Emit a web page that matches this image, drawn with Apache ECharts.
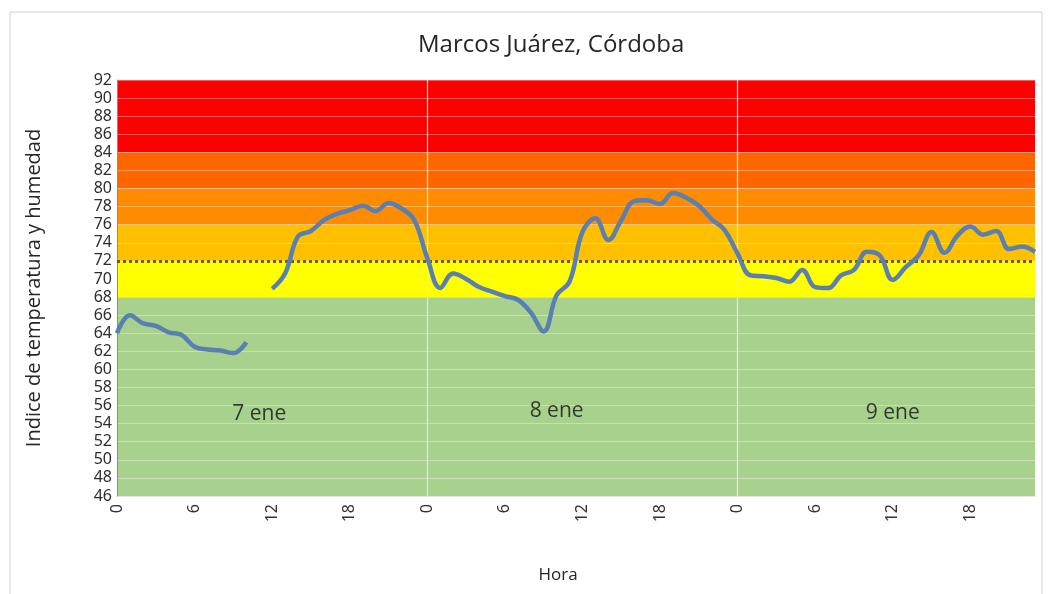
<!DOCTYPE html>
<html>
<head>
<meta charset="utf-8">
<script src="https://cdn.jsdelivr.net/npm/echarts@6/dist/echarts.min.js"></script>
<style>
  html, body { margin: 0; padding: 0; background: #fff; }
  #chart { width: 1048px; height: 594px; }
</style>
</head>
<body>
<div id="chart"></div>
<script>
// hora del día, tres días seguidos (7, 8 y 9 de enero)
const hours = [
  0, 1, 2, 3, 4, 5, 6, 7, 8, 9, 10, 11, 12, 13, 14, 15, 16, 17, 18, 19, 20, 21, 22, 23,
  0, 1, 2, 3, 4, 5, 6, 7, 8, 9, 10, 11, 12, 13, 14, 15, 16, 17, 18, 19, 20, 21, 22, 23,
  0, 1, 2, 3, 4, 5, 6, 7, 8, 9, 10, 11, 12, 13, 14, 15, 16, 17, 18, 19, 20, 21, 22, 23
]
// índice de temperatura y humedad (ITH)
const ith = [
  64.0, 66.0, 65.1, 64.8, 64.1, 63.8, 62.5, 62.2, 62.1, 61.8, 63.0, null,
  68.9, 70.6, 74.7, 75.3, 76.5, 77.2, 77.6, 78.1, 77.5, 78.4, 77.8, 76.5,
  72.3, 69.0, 70.6, 70.0, 69.1, 68.6, 68.1, 67.7, 66.3, 64.2, 68.2, 69.7,
  75.2, 76.7, 74.3, 76.5, 78.6, 78.7, 78.3, 79.5, 79.0, 78.1, 76.6, 75.4,
  72.8, 70.4, 70.3, 70.1, 69.7, 71.0, 69.1, 69.0, 70.4, 71.0, 73.0, 72.6,
  69.9, 71.3, 72.6, 75.2, 72.9, 74.8, 75.8, 74.9, 75.3, 73.3, 73.6, 73.0
]
// franjas de riesgo [desde, hasta, color]
const bands = [
  [46, 68, '#a9d18e'],
  [68, 72, '#ffff00'],
  [72, 76, '#ffc000'],
  [76, 80, '#ff8c00'],
  [80, 84, '#ff6600'],
  [84, 92, '#ff0000']
]
const dayLabels = ['7 ene', '8 ene', '9 ene']
const dayLabelPos = [[10.7, 55.1], [33.9, 55.4], [59.6, 55.2]]
const dayStarts = [24, 48]
const threshold = 72

const myChart = echarts.init(document.getElementById('chart'))
const tickFont = '"Noto Sans", sans-serif'
const textFont = '"Open Sans", sans-serif'

const option = {
  animation: false,
  title: {
    text: 'Marcos Juárez, Córdoba',
    left: 413,
    top: 28,
    textStyle: { fontFamily: textFont, fontWeight: 'normal', fontSize: 24, color: '#262626' }
  },
  graphic: [{
    type: 'rect',
    shape: { x: 10, y: 12, width: 1032, height: 600 },
    style: { fill: 'none', stroke: '#d0d0d0', lineWidth: 1 }
  }],
  grid: { left: 117, right: 13, top: 80, bottom: 98 },
  xAxis: {
    type: 'category',
    data: hours.map((h, i) => i),
    boundaryGap: false,
    name: 'Hora',
    nameLocation: 'middle',
    nameGap: 71,
    nameTextStyle: { fontFamily: textFont, fontSize: 17, color: '#262626', padding: [0, 36, 0, 0] },
    axisLine: { lineStyle: { color: '#d9d9d9' } },
    axisTick: { show: false },
    axisLabel: {
      interval: 5,
      rotate: 90,
      margin: 8,
      fontFamily: tickFont,
      fontSize: 16,
      color: '#333',
      formatter: (v) => hours[v]
    },
    splitLine: { show: false }
  },
  yAxis: {
    type: 'value',
    min: 46,
    max: 92,
    interval: 2,
    z: 3,
    name: 'Indice de temperatura y humedad',
    nameLocation: 'middle',
    nameGap: 73,
    nameTextStyle: { fontFamily: textFont, fontSize: 20, color: '#262626' },
    axisLine: { show: true, lineStyle: { color: '#8c8c8c' } },
    axisTick: { show: false },
    axisLabel: { fontFamily: tickFont, fontSize: 16, color: '#2e2e2e', margin: 5, lineHeight: 9 },
    splitLine: { lineStyle: { color: 'rgba(255,255,255,0.35)', width: 1 } }
  },
  series: [
    {
      name: 'franjas',
      type: 'line',
      data: [],
      z: 1,
      silent: true,
      markArea: {
        silent: true,
        data: bands.map(b => [
          { yAxis: b[0], itemStyle: { color: b[2] } },
          { yAxis: b[1] }
        ])
      }
    },
    {
      name: 'marcas',
      type: 'line',
      data: [],
      z: 4,
      silent: true,
      markLine: {
        silent: true,
        symbol: 'none',
        label: { show: false },
        data: [
          { yAxis: threshold, lineStyle: { color: '#6e5a24', type: [3, 3], width: 3 } },
          ...dayStarts.map(d => ({ xAxis: d, lineStyle: { color: '#e6e6e6', type: 'solid', width: 1.2 } }))
        ]
      }
    },
    {
      name: 'días',
      type: 'scatter',
      symbolSize: 0,
      z: 5,
      silent: true,
      data: dayLabelPos.map((p, i) => ({ value: p, name: dayLabels[i] })),
      label: {
        show: true,
        position: 'inside',
        formatter: (p) => p.name,
        fontFamily: textFont,
        fontSize: 21,
        color: '#111'
      }
    },
    {
      name: 'ITH',
      type: 'line',
      data: ith,
      z: 6,
      smooth: 0.4,
      connectNulls: false,
      showSymbol: false,
      lineStyle: { color: '#5a7fb3', width: 4.5 }
    }
  ]
}
myChart.setOption(option)
</script>
</body>
</html>
